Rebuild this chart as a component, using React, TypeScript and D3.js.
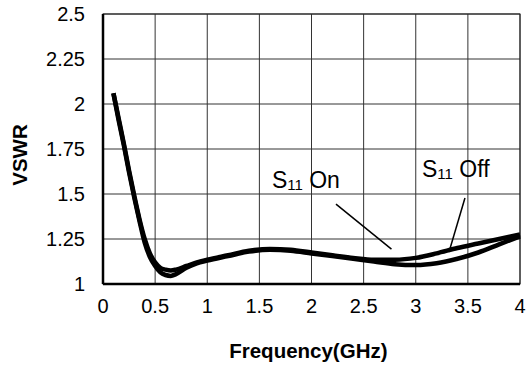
import { useEffect, useRef } from 'react';
import * as d3 from 'd3';

// frequency samples (GHz)
const freqs = [
  0.1, 0.15, 0.2, 0.25, 0.3, 0.35, 0.4, 0.45, 0.5, 0.55, 0.6, 0.65, 0.7, 0.8, 0.9,
  1.0, 1.2, 1.4, 1.6, 1.8, 2.0, 2.2, 2.4, 2.6, 2.8, 3.0, 3.2, 3.4, 3.6, 3.8, 4.0,
];

const s11Off = [
  2.06, 1.92, 1.78, 1.63, 1.49, 1.36, 1.25, 1.17, 1.12, 1.09, 1.08, 1.075, 1.08, 1.10, 1.12,
  1.135, 1.16, 1.185, 1.195, 1.19, 1.175, 1.16, 1.145, 1.135, 1.135, 1.145, 1.17, 1.2, 1.225, 1.25, 1.275,
];

const s11On = [
  2.06, 1.91, 1.77, 1.62, 1.48, 1.35, 1.23, 1.15, 1.1, 1.065, 1.05, 1.045, 1.055, 1.09, 1.115,
  1.13, 1.155, 1.18, 1.19, 1.185, 1.17, 1.155, 1.14, 1.125, 1.11, 1.105, 1.115, 1.14, 1.175, 1.22, 1.265,
];

const xTicks = [0, 0.5, 1, 1.5, 2, 2.5, 3, 3.5, 4];
const yTicks = [1, 1.25, 1.5, 1.75, 2, 2.25, 2.5];

// annotation: label anchor and pointer line, in data units
const labels = [
  { name: 'On', at: [1.62, 1.533], from: [2.235, 1.444], to: [2.767, 1.194] },
  { name: 'Off', at: [3.06, 1.594], from: [3.472, 1.478], to: [3.319, 1.178] },
];

const W = 529;
const H = 369;

export default function App() {
  const svgRef = useRef<SVGSVGElement>(null);

  useEffect(() => {
    if (!svgRef.current) return;
    const svg = d3.select(svgRef.current);
    svg.selectAll('*').remove();

    const margin = { top: 14, right: 9, bottom: 85, left: 103 };
    const innerW = W - margin.left - margin.right;
    const innerH = H - margin.top - margin.bottom;

    const x = d3.scaleLinear().domain([0, 4]).range([0, innerW]);
    const y = d3.scaleLinear().domain([1, 2.5]).range([innerH, 0]);

    const g = svg.append('g').attr('transform', `translate(${margin.left},${margin.top})`);
    const font = 'Liberation Sans, Arial, sans-serif';

    // grid
    g.selectAll('.vgrid')
      .data(xTicks)
      .join('line')
      .attr('x1', (d) => x(d)).attr('x2', (d) => x(d))
      .attr('y1', 0).attr('y2', innerH)
      .attr('stroke', '#333').attr('stroke-width', 1);
    g.selectAll('.hgrid')
      .data(yTicks)
      .join('line')
      .attr('x1', 0).attr('x2', innerW)
      .attr('y1', (d) => y(d)).attr('y2', (d) => y(d))
      .attr('stroke', '#333').attr('stroke-width', 1);

    // frame: heavier left and bottom
    g.append('rect')
      .attr('width', innerW).attr('height', innerH)
      .attr('fill', 'none').attr('stroke', '#222').attr('stroke-width', 1);
    g.append('line').attr('x1', 0).attr('x2', 0).attr('y1', 0).attr('y2', innerH)
      .attr('stroke', '#000').attr('stroke-width', 2.5);
    g.append('line').attr('x1', 0).attr('x2', innerW).attr('y1', innerH).attr('y2', innerH)
      .attr('stroke', '#000').attr('stroke-width', 2.5);

    // tick labels
    g.selectAll('.xt')
      .data(xTicks)
      .join('text')
      .attr('x', (d) => x(d))
      .attr('y', innerH + 29)
      .attr('text-anchor', 'middle')
      .attr('font-family', font).attr('font-size', 20)
      .text((d) => String(d));
    g.selectAll('.yt')
      .data(yTicks)
      .join('text')
      .attr('x', -18)
      .attr('y', (d) => y(d))
      .attr('dy', '0.35em')
      .attr('text-anchor', 'end')
      .attr('font-family', font).attr('font-size', 20)
      .text((d) => String(d));

    // axis titles
    g.append('text')
      .attr('x', x(1.97))
      .attr('y', innerH + 74)
      .attr('text-anchor', 'middle')
      .attr('font-family', font).attr('font-size', 20.5).attr('font-weight', 'bold')
      .text('Frequency(GHz)');
    g.append('text')
      .attr('transform', `translate(${-76},${innerH / 2 + 6}) rotate(-90)`)
      .attr('text-anchor', 'middle')
      .attr('font-family', font).attr('font-size', 20.5).attr('font-weight', 'bold')
      .text('VSWR');

    // curves
    const line = d3.line<[number, number]>()
      .x((d) => x(d[0]))
      .y((d) => y(d[1]))
      .curve(d3.curveMonotoneX);
    [s11Off, s11On].forEach((vals) => {
      g.append('path')
        .datum(freqs.map((f, i) => [f, vals[i]] as [number, number]))
        .attr('d', line)
        .attr('fill', 'none')
        .attr('stroke', '#000')
        .attr('stroke-width', 4.5)
        .attr('stroke-linejoin', 'round');
    });

    // labels
    labels.forEach((l) => {
      g.append('line')
        .attr('x1', x(l.from[0])).attr('y1', y(l.from[1]))
        .attr('x2', x(l.to[0])).attr('y2', y(l.to[1]))
        .attr('stroke', '#000').attr('stroke-width', 1.5);
      const t = g.append('text')
        .attr('x', x(l.at[0])).attr('y', y(l.at[1]))
        .attr('font-family', font).attr('font-size', 23);
      t.append('tspan').text('S');
      t.append('tspan').attr('font-size', 15).attr('dy', 2).text('11');
      t.append('tspan').attr('dy', -2).text(` ${l.name}`);
    });
  }, []);

  return (
    <svg
      ref={svgRef}
      width={W}
      height={H}
      style={{ position: 'absolute', left: 0, top: 0, background: '#fff' }}
    />
  );
}
